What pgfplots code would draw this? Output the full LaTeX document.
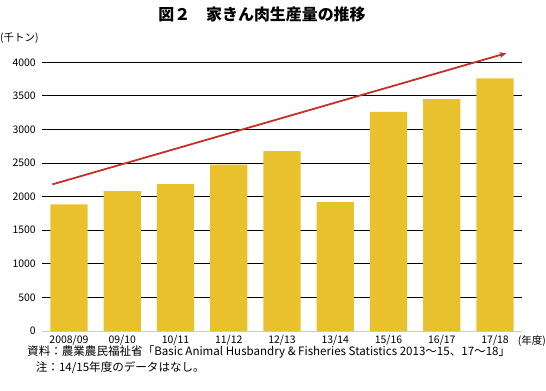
\documentclass[border=0pt]{standalone}
\usepackage{fontspec}
\setmainfont{Noto Sans CJK JP}
\usepackage{pgfplots}
\pgfplotsset{compat=1.18}
\usetikzlibrary{arrows.meta}
\definecolor{baryellow}{RGB}{233,193,45}
\definecolor{arrowred}{RGB}{196,48,38}
\begin{document}
\begin{tikzpicture}[x=1bp,y=1bp]
\useasboundingbox (0,0) rectangle (546,390);
\node[font=\fontsize{16}{18}\selectfont\bfseries] at (262,376) {図２　家きん肉生産量の推移};
\node[anchor=west,font=\fontsize{10.5}{12}\selectfont,inner sep=0] at (0,352) {(千トン)};
\begin{axis}[
  at={(42.3bp,59bp)}, anchor=south west,
  scale only axis, width=479.4bp, height=268.7bp,
  xmin=-0.5, xmax=8.5, ymin=0, ymax=4000,
  clip=false,
  axis y line*=left, axis x line*=bottom,
  y axis line style={draw=none},
  x axis line style={draw=black!20, line width=0.8pt},
  ytick={0,500,...,4000},
  ymajorgrids, grid style={black, line width=0.8pt},
  major tick length=0pt,
  xtick={0,...,8},
  xticklabels={2008/09,09/10,10/11,11/12,12/13,13/14,15/16,16/17,17/18},
  tick label style={font=\fontsize{10.5}{12}\selectfont},
  /pgf/number format/assume math mode=true,
  /pgf/number format/set thousands separator={},
  yticklabel style={xshift=-3bp},
  xticklabel style={yshift=-1bp},
  axis on top=false,
]
\addplot[ybar, bar width=0.7, fill=baryellow, draw=none] coordinates {
  (0,1885) (1,2083) (2,2188) (3,2475) (4,2679) (5,1920) (6,3263) (7,3452) (8,3760)
};
\addplot[arrowred, line width=1.8pt, -{Stealth[length=7bp,width=6bp]}] coordinates {(-0.31,2183) (8.21,4135)};
\end{axis}
\node[anchor=east,font=\fontsize{10.5}{12}\selectfont,inner sep=0] at (546,48.5) {(年度)};
\node[anchor=west,font=\fontsize{11.6}{13}\selectfont,inner sep=0] at (27,38) {資料：農業農民福祉省「Basic Animal Husbandry \& Fisheries Statistics 2013～15、17～18」};
\node[anchor=west,font=\fontsize{11.6}{13}\selectfont,inner sep=0] at (35.7,22) {注：14/15年度のデータはなし。};
\end{tikzpicture}
\end{document}
